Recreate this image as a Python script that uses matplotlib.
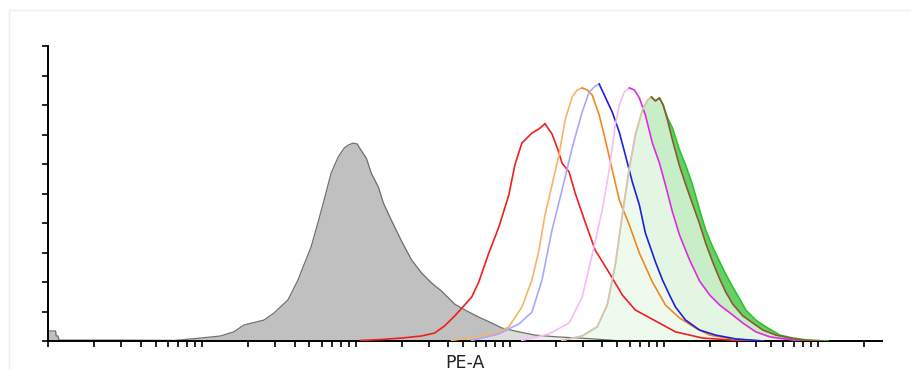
import numpy as np
import matplotlib.pyplot as plt
from matplotlib.patches import Rectangle

# PE-A histogram overlay (counts scaled so the top of the y axis = 100)
gray_x = [1.0, 1.12, 1.13, 1.16, 1.18, 3.0, 6.7, 9.8, 13.2, 16.1, 18.7, 25.3, 29.4, 36.2, 42.1, 46.0,
          51.2, 56.9, 62.2, 69.1, 76.8, 84.0, 89.2, 96.1, 102, 108, 117, 126, 140, 151, 170, 198,
          230, 267, 310, 361, 439, 525, 629, 764, 888, 1147, 1458, 2029, 2824, 3989, 5385]
gray_y = [3.4, 3.4, 1.7, 1.7, 0.3, 0.3, 0.2, 1.0, 1.7, 3.1, 5.4, 7.1, 9.5, 13.9, 20.7, 25.8,
          31.9, 40.3, 47.8, 56.9, 62.4, 65.4, 66.4, 67.1, 66.8, 64.7, 62.0, 56.9, 52.2, 46.8, 41.0, 33.9,
          27.5, 23.1, 19.7, 16.9, 12.5, 10.2, 8.1, 6.1, 4.4, 3.1, 2.0, 1.4, 1.0, 0.5, 0]

red_x = [108, 146, 198, 267, 325, 377, 439, 509, 566, 629, 731, 849, 986, 1080, 1199, 1394, 1548,
         1694, 1882, 2060, 2187, 2430, 2659, 3090, 3591, 4430, 5385, 6546, 8841, 11940, 17910, 28100, 44100]
red_y = [0.2, 0.5, 1.0, 1.7, 2.7, 5.1, 8.5, 12.2, 14.9, 20.0, 29.8, 38.6, 49.5, 59.7, 67.1, 70.5, 71.9,
         73.6, 70.2, 64.7, 60.3, 57.3, 50.2, 40.3, 30.8, 23.1, 15.6, 10.5, 6.8, 3.1, 1.0, 0.3, 0]

orange_x = [419, 610, 824, 986, 1199, 1394, 1548, 1694, 1882, 2091, 2288, 2542, 2740, 2953, 3184,
            3432, 3813, 4110, 4634, 5149, 5983, 6952, 8450, 10270, 12680, 16120, 19900, 28100, 44100]
orange_y = [0.2, 1.4, 2.7, 4.8, 11.5, 20.7, 30.8, 42.7, 52.9, 63.1, 74.9, 82.7, 85.1, 85.8, 85.1,
            83.4, 76.6, 69.8, 58.0, 47.8, 39.3, 29.8, 20.0, 12.2, 7.8, 4.4, 2.0, 0.7, 0]

blue_x = [566, 849, 1147, 1394, 1620, 1882, 2187, 2542, 2953, 3281, 3591, 3813, 4173, 4634, 5149,
          5634, 6258, 6952, 7607, 8841, 9822, 10910, 11940, 13870, 17120, 21770, 29400, 44100]
blue_y = [0.2, 2.4, 5.8, 9.8, 20.7, 37.6, 51.2, 65.4, 77.6, 84.4, 86.4, 87.1, 82.7, 77.6, 70.8,
          63.1, 53.9, 46.1, 36.6, 26.8, 20.7, 15.6, 11.5, 7.1, 3.7, 2.0, 0.7, 0]

magenta_x = [1199, 1799, 2430, 2953, 3432, 3989, 4430, 4849, 5149, 5550, 5983, 6449, 6952, 7607, 8450,
             9389, 10270, 11410, 12680, 14730, 17120, 19900, 23120, 28100, 32660, 39700, 48980, 69200, 93500]
magenta_y = [0.2, 2.4, 6.1, 14.9, 29.2, 44.4, 58.0, 73.2, 80.0, 84.4, 85.8, 85.1, 82.4, 76.6, 67.1,
             60.3, 52.9, 43.7, 35.9, 27.5, 20.3, 15.6, 12.2, 8.8, 6.1, 3.1, 1.4, 0.3, 0]

brown_x = [2187, 2953, 3700, 4299, 4849, 5385, 5983, 6546, 7272, 7841, 8325, 8841, 9389, 9924, 10590,
           11410, 12680, 13870, 15410, 17120, 18740, 20810, 23120, 25300, 28100, 32660, 37960, 44100,
           53600, 66150, 80400, 108600]
brown_y = [0.2, 1.7, 4.8, 12.2, 25.8, 42.7, 58.6, 69.8, 78.3, 81.7, 82.7, 81.4, 82.4, 80.0, 74.9,
           68.1, 59.3, 53.2, 46.4, 39.7, 33.2, 26.8, 21.0, 16.6, 12.5, 8.5, 6.1, 3.7,
           2.0, 1.0, 0.3, 0]

green_x = [2187, 2953, 3700, 4299, 4849, 5385, 5983, 6546, 7272, 7841, 8325, 8841, 9389, 9924, 10590,
           11410, 12680, 13870, 15410, 17120, 18740, 20810, 23120, 25300, 28100, 31230, 34170, 39700,
           46140, 56930, 69200, 86700, 117100]
green_y = [0.2, 1.7, 4.8, 12.2, 25.8, 42.7, 58.6, 69.8, 78.3, 81.7, 82.7, 81.4, 82.4, 80.0, 75.6,
           72.2, 64.7, 59.7, 52.9, 44.4, 37.6, 31.9, 26.8, 22.7, 18.3, 14.2, 10.5, 7.1,
           4.8, 2.0, 1.0, 0.3, 0]


def trace(ax, x, y, light, dark, lw=1.2, z=4):
    # rising side drawn pale, falling side in full colour (as in the overlay)
    k = int(np.argmax(y))
    ax.plot(x[:k + 1], y[:k + 1], color=light, lw=lw, zorder=z)
    ax.plot(x[k:], y[k:], color=dark, lw=lw, zorder=z)


fig = plt.figure(figsize=(9.12, 3.70), dpi=100)
fig.patches.append(Rectangle((9 / 912, -0.1), 1.1, 1.1 - 10 / 370, transform=fig.transFigure,
                             fill=False, edgecolor="#efefef", lw=1))
ax = fig.add_axes([48 / 912, 29 / 370, 834 / 912, 295 / 370])

ax.fill_between(gray_x, 0, gray_y, color="#c0c0c0", lw=0, zorder=1)
ax.plot(gray_x, gray_y, color="#6e6e6e", lw=0.9, zorder=2)

ax.fill_between(green_x, 0, green_y, color="#66d066", lw=0, zorder=1)
ax.fill_between(brown_x, 0, brown_y, color="#c8eec8", lw=0, zorder=1)
ax.fill_between(magenta_x, 0, magenta_y, color="white", alpha=0.5, lw=0, zorder=1)
ax.fill_between(blue_x, 0, blue_y, color="white", alpha=0.45, lw=0, zorder=1)

trace(ax, red_x, red_y, "#ee2020", "#ee2020")
trace(ax, orange_x, orange_y, "#f7b36a", "#f08a1c")
trace(ax, blue_x, blue_y, "#a8a8ff", "#1f1fe0")
trace(ax, magenta_x, magenta_y, "#f5bdf5", "#e02ae0")
trace(ax, green_x, green_y, "#d8c8b4", "#2fc42f")
trace(ax, brown_x, brown_y, "#d8c4b0", "#8a5a32", z=5)

ax.set_xscale("log")
ax.set_xlim(1, 262144)
ax.set_ylim(0, 100)
ax.set_yticks(np.arange(0, 101, 10))
ax.xaxis.set_major_locator(plt.LogLocator(base=10))
ax.xaxis.set_minor_locator(plt.LogLocator(base=10, subs=np.arange(2, 10)))
ax.tick_params(axis="both", which="both", direction="out", length=4, width=1.2,
               labelbottom=False, labelleft=False, color="black")
for s in ("top", "right"):
    ax.spines[s].set_visible(False)
for s in ("left", "bottom"):
    ax.spines[s].set_linewidth(1.4)
ax.set_xlabel("PE-A", fontsize=12.5, color="#222222", labelpad=5)

fig.savefig("out.png", dpi=100)
